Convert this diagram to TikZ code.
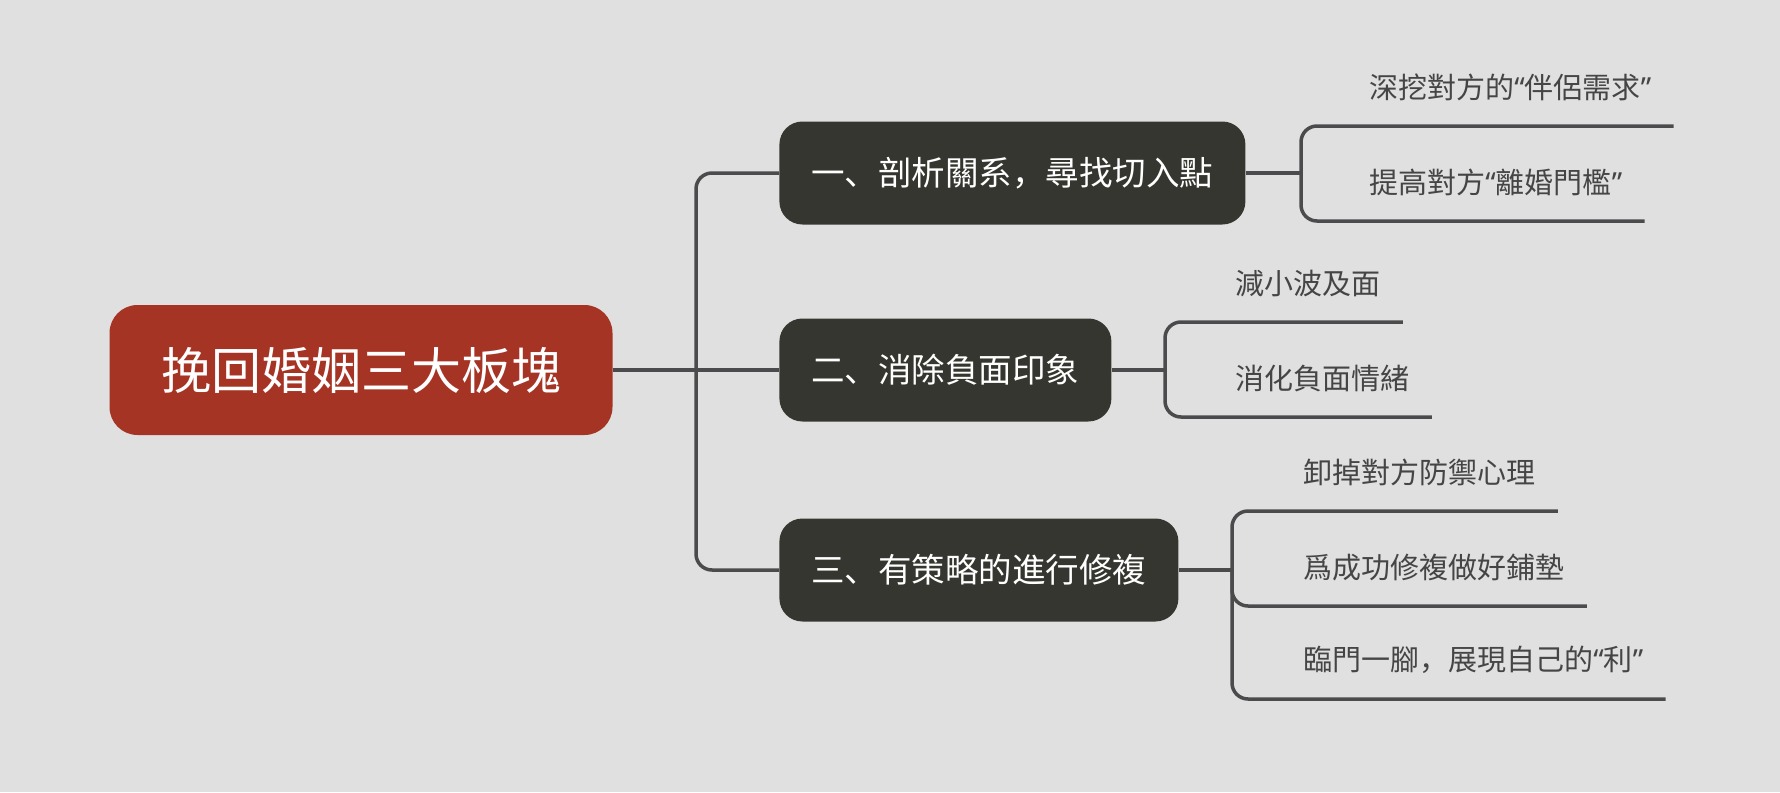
\documentclass[tikz,border=0pt]{standalone}
\usepackage{fontspec}
\usepackage{xcolor}
\usetikzlibrary{calc}
\newfontfamily\cjk{Noto Sans CJK SC}
\newfontfamily\quotefont{Noto Sans}
% narrow (Latin) quotation marks round a CJK phrase
\newcommand{\qtext}[1]{{\quotefont “}#1{\quotefont ”}}
\definecolor{bggray}{HTML}{E0E0E0}
\definecolor{rootred}{HTML}{A63425}
\definecolor{topicdark}{HTML}{363630}
\definecolor{linkgray}{HTML}{4B4B4E}
\definecolor{leafgray}{HTML}{454545}
\tikzset{
	root/.style={rectangle, fill=rootred, text=white, rounded corners=14pt, minimum height=65pt, inner xsep=25.75pt, font=\cjk\fontsize{25}{30}\selectfont},
	topic/.style={rectangle, fill=topicdark, text=white, rounded corners=11.5pt, minimum height=51.5pt, inner xsep=16pt, anchor=west, font=\cjk\fontsize{16.75}{20}\selectfont},
	leaf/.style={anchor=west, inner sep=0pt, text=leafgray, font=\cjk\fontsize{14.5}{17}\selectfont},
	link/.style={draw=linkgray, line width=1.75pt, rounded corners=8pt}
}

\begin{document}
\begin{tikzpicture}[x=0.5pt, y=-0.5pt]
		
		% --- Background (fixes the page size) ---
		\fill[bggray] (0,0) rectangle (1780,792);
		
		% --- Root and Main Topics ---
		\node[root] (root) at (361,370) {挽回婚姻三大板塊};
		\node[topic] (topic1) at (779,173) {一、剖析關系，尋找切入點};
		\node[topic] (topic2) at (779,370) {二、消除負面印象};
		\node[topic] (topic3) at (779,570) {三、有策略的進行修複};
		
		% --- Trunk ---
		\coordinate (trunk) at (696,370);
		\draw[link] (root.east) -- (topic2.west);
		\draw[link] (topic1.west) -| (trunk) |- (topic3.west);
		
		% --- Leaves ---
		\node[leaf] (leaf11) at (1369,87) {深挖對方的\qtext{伴侶需求}};
		\node[leaf] (leaf12) at (1369,182) {提高對方\qtext{離婚門檻}};
		\node[leaf] (leaf21) at (1235,283) {減小波及面};
		\node[leaf] (leaf22) at (1235,378) {消化負面情緒};
		\node[leaf] (leaf31) at (1303,472) {卸掉對方防禦心理};
		\node[leaf] (leaf32) at (1303,567) {爲成功修複做好鋪墊};
		\node[leaf] (leaf33) at (1303,660) {臨門一腳，展現自己的\qtext{利}};
		
		% --- Brackets: branch point, then underline each leaf ---
		\coordinate (fork1) at (1301,173);
		\coordinate (fork2) at (1165,370);
		\coordinate (fork3) at (1232,570);
		
		\draw[link] (topic1.east) -- (fork1);
		\draw[link] (fork1) |- ($(leaf11.east)+(22,39)$);
		\draw[link] (fork1) |- ($(leaf12.east)+(22,39)$);
		
		\draw[link] (topic2.east) -- (fork2);
		\draw[link] (fork2) |- ($(leaf21.east)+(22,39)$);
		\draw[link] (fork2) |- ($(leaf22.east)+(22,39)$);
		
		\draw[link] (topic3.east) -- (fork3);
		\draw[link] (fork3) |- ($(leaf31.east)+(22,39)$);
		\draw[link] (fork3) |- ($(leaf32.east)+(22,39)$);
		\draw[link] (fork3) |- ($(leaf33.east)+(22,39)$);
		
\end{tikzpicture}
\end{document}
